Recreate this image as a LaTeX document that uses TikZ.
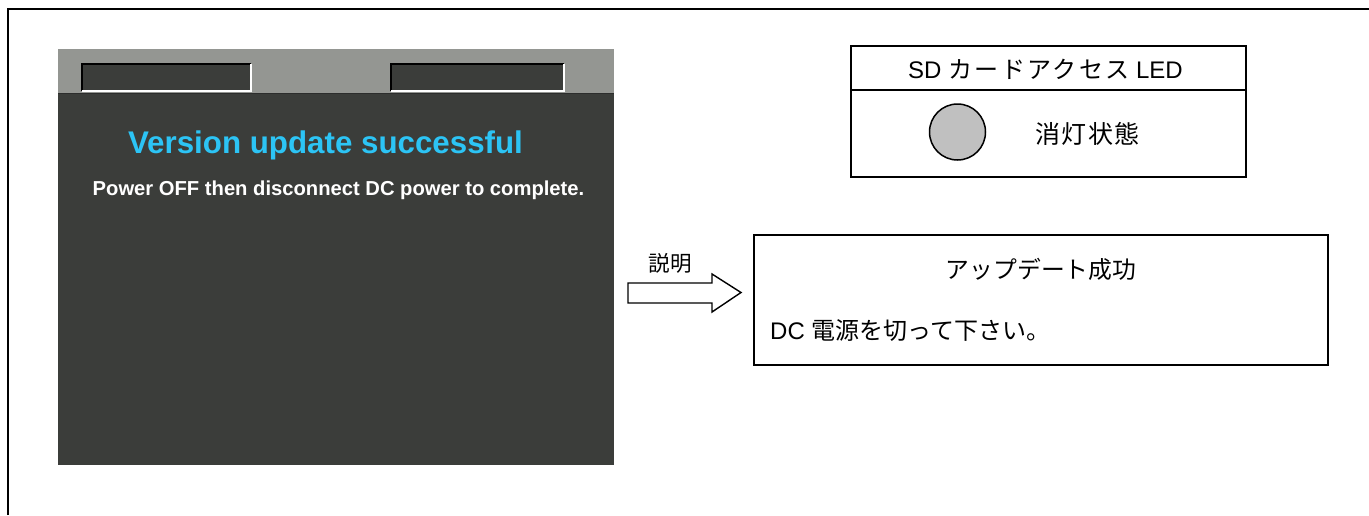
\documentclass[tikz,border=0pt]{standalone}
\usepackage{fontspec}
\setmainfont{Liberation Sans}
\newfontfamily\jp{Noto Sans CJK JP}
\definecolor{bandgray}{RGB}{148,150,146}
\definecolor{screendark}{RGB}{59,61,58}
\definecolor{titlecyan}{RGB}{44,196,245}
\definecolor{ledgray}{RGB}{192,192,192}
\tikzset{
  frameline/.style={line width=2pt, black},
  boxline/.style={draw=black, line width=1.6pt},
  slot/.style={fill=screendark},
  jptext/.style={font=\fontsize{24}{28}\selectfont, inner sep=0pt, anchor=base},
}
\begin{document}
\begin{tikzpicture}[x=1pt,y=-1pt]
\useasboundingbox (0,0) rectangle (1369,515);
\fill[white] (0,0) rectangle (1369,515);
% outer frame (cut by page edge)
\draw[frameline] (8,515) -- (8,9) -- (1369,9);
% screen
\fill[screendark] (58,49) rectangle (614,465);
\fill[bandgray] (58,49) rectangle (614,93);
\draw[black!70!bandgray, line width=0.8pt] (58,93) -- (614,93);
% slots
\fill[slot] (82,64) rectangle (251,91);
\draw[black, line width=1.2pt] (82,91) -- (82,64) -- (251,64);
\draw[white, line width=1.2pt] (82,91) -- (251,91) -- (251,64);
\fill[slot] (391,64) rectangle (564,91);
\draw[black, line width=1.2pt] (391,91) -- (391,64) -- (564,64);
\draw[white, line width=1.2pt] (391,91) -- (564,91) -- (564,64);
\node[anchor=base, inner sep=0pt, text=titlecyan, font=\bfseries\fontsize{31.3}{36}\selectfont] (title) at (325.5,153) {Version update successful};
\node[anchor=base, inner sep=0pt, text=white, font=\bfseries\fontsize{20.2}{24}\selectfont] (sub) at (338.5,195) {Power OFF then disconnect DC power to complete.};
% LED box
\draw[boxline, line width=2pt] (851,46) rectangle (1246,177);
\draw[black, line width=2pt] (851,90) -- (1246,90);
\node[jptext] (ledtitle) at (1045.5,78) {SD {\jp\addfontfeatures{LetterSpace=10}カードアクセス} LED};
\node[circle, draw=black, line width=1.5pt, fill=ledgray, minimum size=56pt, inner sep=0pt] (led) at (957.5,132) {};
\node[jptext, font=\jp\fontsize{25}{29}\selectfont] (ledstate) at (1087.5,143) {\addfontfeatures{LetterSpace=5}消灯状態};
% arrow
\draw[black, line width=1.4pt, fill=white, line join=miter]
  (628,283) -- (712,283) -- (712,274) -- (741,292.5) -- (712,312) -- (712,303) -- (628,303) -- cycle;
\node[jptext, font=\jp\fontsize{21.5}{25}\selectfont] (explain) at (670,271) {説明};
% description box
\draw[boxline] (754,235) rectangle (1328,365);
\node[jptext, font=\jp\fontsize{23.8}{28}\selectfont] (msg1) at (1041,278) {アップデート成功};
\node[jptext, anchor=base west] (msg2) at (770,339) {DC {\jp 電源を切って下さい。}};
\end{tikzpicture}
\end{document}
